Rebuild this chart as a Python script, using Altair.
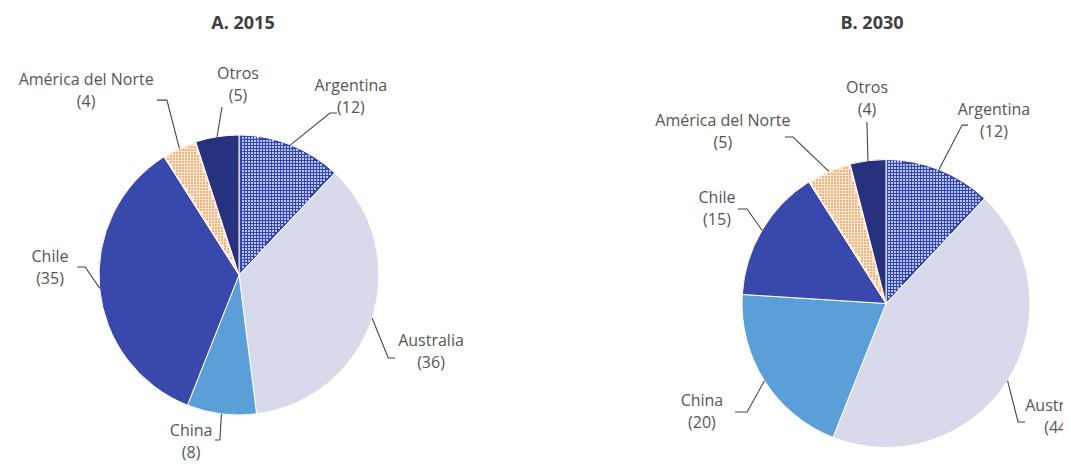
import math
import numpy as np
import pandas as pd
import altair as alt

# ---------------- data ----------------
categories = ["Argentina", "Australia", "China", "Chile", "América del Norte", "Otros"]
share_2015 = [12, 36, 8, 35, 4, 5]
share_2030 = [12, 44, 20, 15, 5, 4]
panel_titles = ["A. 2015", "B. 2030"]
panel_shares = [share_2015, share_2030]

# ---------------- style / layout ----------------
slice_colors = ["#3447b0", "#d9d9ec", "#5b9fd9", "#3949ab", "#fde6d2", "#27317e"]
texture = {"Argentina": "#b7c4f2", "América del Norte": "#f2b27c"}
TEXT_COLOR = "#555555"
LINE_COLOR = "#454545"
FONT = "Open Sans"

W, H = 1055, 455                      # plot area (page minus 8px margins)
centers = [(239, 275), (886, 303.5)]  # pie centres, page pixels
radii = [140, 144]
title_pos = [(243, 24), (872, 24)]
# leader elbow (angle deg clockwise from top, radius factor), label centre, tail length
elbow_polar = [
    [(29.3, 1.327), (119.1, 1.22), (186.6, 1.186), (273.0, 1.10), (337.6, 1.351), (354.2, 1.206)],
    [(23.1, 1.347), (131.9, 1.232), (232.0, 1.224), (304.2, 1.167), (330.8, 1.324), (354.0, 1.267)],
]
label_polar = [
    [(32.2, 1.50), (111.9, 1.478), (196.0, 1.241), (272.1, 1.351), (320.3, 1.709), (359.7, 1.357)],
    [(30.6, 1.473), (123.5, 1.433), (239.4, 1.485), (299.3, 1.346), (316.5, 1.646), (354.7, 1.426)],
]
tail_len = [[7, 7, 5, 8, 10, 0], [6, 7, 12, 9, 8, 0]]
LINE_GAP = 11


def polar(cx, cy, r, ang_deg):
    a = math.radians(ang_deg)
    return cx + r * math.sin(a), cy - r * math.cos(a)


arc_rows, line_rows, label_rows, tex_rows = [], [], [], []
for p, shares in enumerate(panel_shares):
    cx, cy = centers[p]
    R = radii[p]
    cum = 0
    for i, (cat, v) in enumerate(zip(categories, shares)):
        t0, t1 = cum, cum + v
        cum = t1
        arc_rows.append(dict(panel=p, category=cat, t0=t0, t1=t1, cx=cx, cy=cy, R=R))
        mid = (t0 + t1) / 2 * 3.6
        # leader line
        sx, sy = polar(cx, cy, R, mid)
        ea, er = elbow_polar[p][i]
        ex, ey = polar(cx, cy, R * er, ea)
        la, lr = label_polar[p][i]
        lx, ly = polar(cx, cy, R * lr, la)
        side = 1 if lx > ex else -1
        pts = [(sx, sy), (ex, ey), (ex + side * tail_len[p][i], ey)]
        for k, (x, y) in enumerate(pts):
            line_rows.append(dict(id=f"{p}-{i}", k=k, x=x, y=y))
        label_rows.append(dict(x=lx, y=ly - LINE_GAP, text=cat))
        label_rows.append(dict(x=lx, y=ly + LINE_GAP, text=f"({v})"))
        # hatched texture for patterned slices
        if cat in texture:
            a0, a1 = t0 * 3.6, t1 * 3.6
            for gx in np.arange(math.floor(cx - R), math.ceil(cx + R) + 1, 3):
                for gy in np.arange(math.floor(cy - R), math.ceil(cy + R) + 1, 3):
                    dx, dy = gx - cx, gy - cy
                    d = math.hypot(dx, dy)
                    if d < 3 or d > R - 1.5:
                        continue
                    ang = math.degrees(math.atan2(dx, -dy)) % 360
                    m = math.degrees(1.6 / d)
                    if a0 + m <= ang <= a1 - m:
                        tex_rows.append(dict(x=float(gx), y=float(gy), category=cat))

arcs = pd.DataFrame(arc_rows)
lines = pd.DataFrame(line_rows)
labels = pd.DataFrame(label_rows)
tex = pd.DataFrame(tex_rows)
titles = pd.DataFrame(dict(x=[t[0] for t in title_pos], y=[t[1] for t in title_pos], text=panel_titles))

xs = alt.Scale(domain=[8, 8 + W], nice=False, zero=False)
ys = alt.Scale(domain=[8, 8 + H], nice=False, zero=False, reverse=True)

pie = alt.Chart(arcs).mark_arc(stroke="white", strokeWidth=1).encode(
    x=alt.X("cx:Q", scale=xs, axis=None),
    y=alt.Y("cy:Q", scale=ys, axis=None),
    theta=alt.Theta("t0:Q", scale=alt.Scale(domain=[0, 100], range=[0, 2 * math.pi])),
    theta2="t1:Q",
    radius=alt.Radius("R:Q", scale=None),
    color=alt.Color("category:N", scale=alt.Scale(domain=categories, range=slice_colors), legend=None),
)

dots = alt.Chart(tex).mark_square(size=4, opacity=1).encode(
    x=alt.X("x:Q", scale=xs, axis=None),
    y=alt.Y("y:Q", scale=ys, axis=None),
    color=alt.Color("category:N",
                    scale=alt.Scale(domain=list(texture.keys()), range=list(texture.values())),
                    legend=None),
)

leaders = alt.Chart(lines).mark_line(color=LINE_COLOR, strokeWidth=1.1).encode(
    x=alt.X("x:Q", scale=xs, axis=None),
    y=alt.Y("y:Q", scale=ys, axis=None),
    detail="id:N",
    order="k:Q",
)

text = alt.Chart(labels).mark_text(font=FONT, fontSize=16, color=TEXT_COLOR,
                                   align="center", baseline="middle").encode(
    x=alt.X("x:Q", scale=xs, axis=None),
    y=alt.Y("y:Q", scale=ys, axis=None),
    text="text:N",
)

title_text = alt.Chart(titles).mark_text(font=FONT, fontSize=18, fontWeight="bold", color="#404040",
                                         align="center", baseline="middle").encode(
    x=alt.X("x:Q", scale=xs, axis=None),
    y=alt.Y("y:Q", scale=ys, axis=None),
    text="text:N",
)

chart = alt.layer(pie, dots, leaders, text, title_text).resolve_scale(color="independent").properties(
    width=W, height=H, autosize=alt.AutoSizeParams(type="none"), padding=0
).configure_view(stroke=None)

chart.save("out.html", embed_options={"renderer": "svg", "actions": False})
